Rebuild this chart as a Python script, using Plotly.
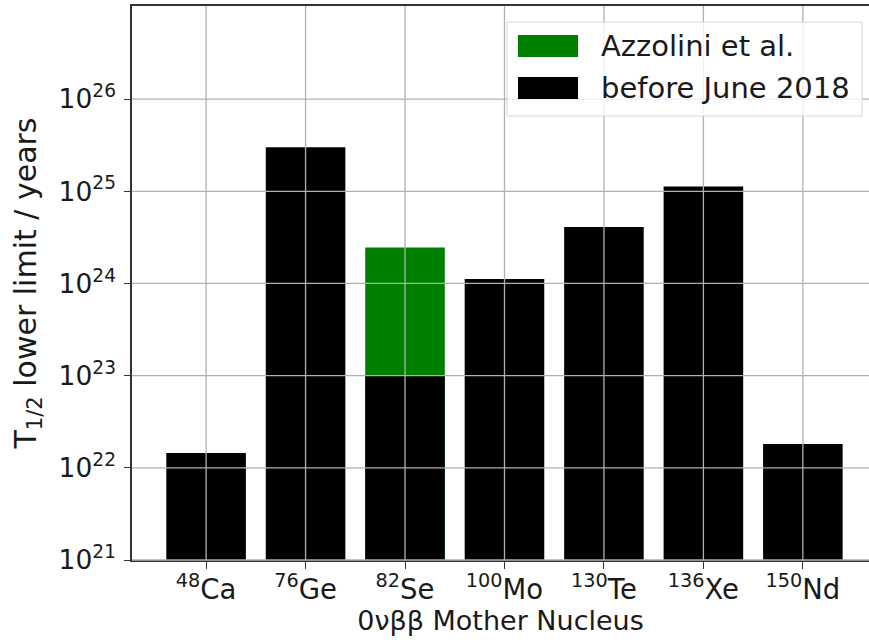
import plotly.graph_objects as go

# ---- data ----
nuclei = ["<sup>48</sup>Ca", "<sup>76</sup>Ge", "<sup>82</sup>Se", "<sup>100</sup>Mo",
          "<sup>130</sup>Te", "<sup>136</sup>Xe", "<sup>150</sup>Nd"]
before_june_2018 = [1.45e22, 3.0e25, 1.0e23, 1.12e24, 4.1e24, 1.13e25, 1.81e22]
azzolini = [None, None, 2.46e24, None, None, None, None]
ytick_exponents = [21, 22, 23, 24, 25, 26]
legend_labels = ["Azzolini et al.", "before June 2018"]
legend_colors = ["#008000", "#000000"]

W, H = 869, 640
L, R, T, B = 132, 0, 6, 80
FONT = "DejaVu Sans"
TXC = "#1a1a1a"
YMIN, YMAX = 21, 27.01

xpos = list(range(len(nuclei)))

fig = go.Figure()
fig.add_trace(go.Bar(x=xpos, y=azzolini, marker=dict(color=legend_colors[0], line=dict(width=0)),
                     width=0.8, name=legend_labels[0], showlegend=False))
fig.add_trace(go.Bar(x=xpos, y=before_june_2018, marker=dict(color=legend_colors[1], line=dict(width=0)),
                     width=0.8, name=legend_labels[1], showlegend=False))

# grid lines drawn above the bars (as in the reference)
grid = dict(color="#b0b0b0", width=1.3)
for xv in xpos:
    fig.add_shape(type="line", xref="x", yref="paper", x0=xv, x1=xv, y0=0, y1=1,
                  line=grid, layer="above")
for e in ytick_exponents:
    yp = (e - YMIN) / (YMAX - YMIN)
    fig.add_shape(type="line", xref="paper", yref="paper", x0=0, x1=1, y0=yp, y1=yp,
                  line=grid, layer="above")

# manual legend (paper coords from pixels)
pw, ph = W - L - R, H - T - B
def px(xp):
    return (xp - L) / pw
def py(yp):
    return (H - B - yp) / ph

fig.add_shape(type="rect", xref="paper", yref="paper", x0=px(507), x1=px(862), y0=py(116), y1=py(22),
              line=dict(color="#d8d8d8", width=1), fillcolor="rgba(255,255,255,0.8)", layer="above")
for i, (lab, col) in enumerate(zip(legend_labels, legend_colors)):
    yc = 46 + i * 42
    fig.add_shape(type="rect", xref="paper", yref="paper", x0=px(518), x1=px(578),
                  y0=py(yc + 11), y1=py(yc - 11), line=dict(width=0), fillcolor=col, layer="above")
    fig.add_annotation(xref="paper", yref="paper", x=px(599), y=py(yc), text=lab, showarrow=False,
                       xanchor="left", yanchor="middle", font=dict(family=FONT, size=29, color=TXC))

fig.update_layout(
    width=W, height=H, margin=dict(l=L, r=R, t=T, b=B, pad=0),
    paper_bgcolor="white", plot_bgcolor="white",
    barmode="overlay", bargap=0.2,
    font=dict(family=FONT, size=26.5, color=TXC),
    showlegend=False,
)
fig.update_xaxes(
    range=[-0.745, 6.665], tickvals=xpos, ticktext=nuclei,
    showgrid=False, zeroline=False,
    showline=True, linecolor="#333333", linewidth=1.5, mirror=True,
    ticks="outside", ticklen=7, tickwidth=1.3, tickcolor="#333333",
    ticklabelstandoff=-3,
    title=dict(text="0νββ Mother Nucleus", standoff=5, font=dict(size=27)),
    tickfont=dict(size=27.5),
)
fig.update_yaxes(
    type="log", range=[YMIN, YMAX],
    tickvals=[10.0 ** e for e in ytick_exponents],
    ticktext=["10<sup>%d</sup>" % e for e in ytick_exponents],
    showgrid=False, zeroline=False,
    showline=True, linecolor="#333333", linewidth=1.5,
    ticks="outside", ticklen=6, tickwidth=1.3, tickcolor="#333333",
    ticklabelstandoff=3,
    title=dict(text="T<sub>1/2</sub> lower limit / years", standoff=13, font=dict(size=30)),
    tickfont=dict(size=26.5),
)

fig.write_html("out.html", config={"displayModeBar": False},
               post_script="document.body.style.margin='0';")
